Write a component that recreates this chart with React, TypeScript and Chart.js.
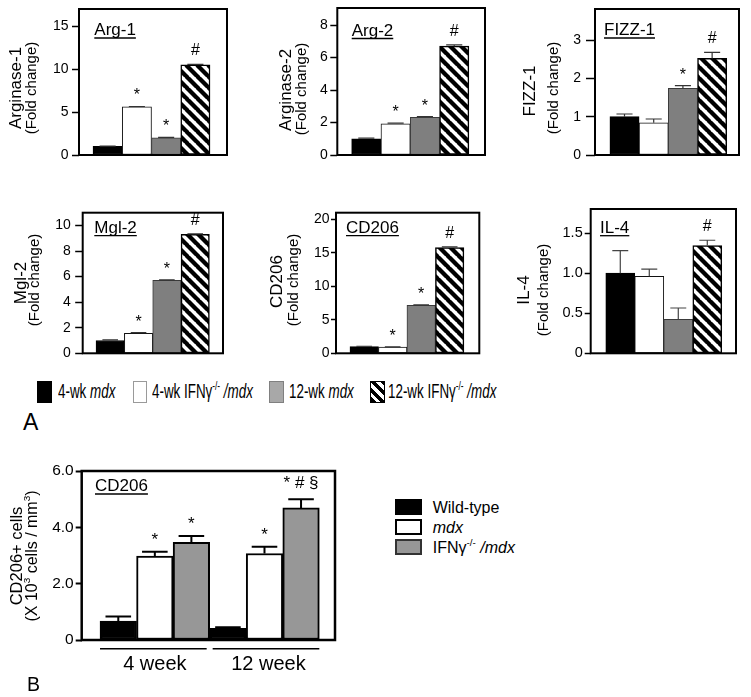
import React, { useEffect, useRef } from "react";
import { Chart, registerables } from "chart.js";
Chart.register(...registerables);

const FONT = '"Liberation Sans", Arial, Helvetica, sans-serif';

// ---------------- Panel A data ----------------
const GROUPS_A = ["4-wk mdx", "4-wk IFNγ-/- /mdx", "12-wk mdx", "12-wk IFNγ-/- /mdx"];

const ARG1_VALUES = [1.0, 5.6, 2.0, 10.5];
const ARG1_SEM = [0.04, 0.05, 0.05, 0.06];
const ARG1_MARKS = ["", "*", "*", "#"];
const ARG1_TICKS = [0, 5, 10, 15];

const ARG2_VALUES = [1.0, 1.92, 2.32, 6.7];
const ARG2_SEM = [0.04, 0.04, 0.05, 0.08];
const ARG2_MARKS = ["", "*", "*", "#"];
const ARG2_TICKS = [0, 2, 4, 6, 8];

const FIZZ1_VALUES = [1.0, 0.84, 1.74, 2.52];
const FIZZ1_SEM = [0.07, 0.1, 0.07, 0.16];
const FIZZ1_MARKS = ["", "", "*", "#"];
const FIZZ1_TICKS = [0, 1, 2, 3];

const MGL2_VALUES = [1.0, 1.56, 5.7, 9.3];
const MGL2_SEM = [0.05, 0.05, 0.04, 0.04];
const MGL2_MARKS = ["", "*", "*", "#"];
const MGL2_TICKS = [0, 2, 4, 6, 8, 10];

const CD206_VALUES = [1.0, 0.92, 7.15, 15.8];
const CD206_SEM = [0.05, 0.05, 0.08, 0.1];
const CD206_MARKS = ["", "*", "*", "#"];
const CD206_TICKS = [0, 5, 10, 15, 20];

const IL4_VALUES = [1.0, 0.96, 0.425, 1.345];
const IL4_SEM = [0.28, 0.09, 0.14, 0.065];
const IL4_MARKS = ["", "", "", "#"];
const IL4_TICKS = [0, 0.5, 1.0, 1.5];

// ---------------- Panel B data ----------------
const WEEKS_B = ["4 week", "12 week"];
const GROUPS_B = ["Wild-type", "mdx", "IFNγ-/- /mdx"];
const WT_B = [0.67, 0.41];
const WT_B_SEM = [0.16, 0.04];
const WT_B_MARKS = ["", ""];
const MDX_B = [2.98, 3.07];
const MDX_B_SEM = [0.15, 0.24];
const MDX_B_MARKS = ["*", "*"];
const IFN_B = [3.47, 4.69];
const IFN_B_SEM = [0.22, 0.31];
const IFN_B_MARKS = ["*", "* # §"];
const B_TICKS = [0, 2, 4, 6];

// ---------------- styling ----------------
const GRAY_A = "#7f7f7f";
const GRAY_B = "#979797";

type Seg = { t: string; sup?: boolean; it?: boolean };

function parseRich(s: string): Seg[] {
  return s
    .split(/(-\/-|\/?mdx)/)
    .filter((p) => p !== "")
    .map((p) => (p === "-/-" ? { t: p, sup: true } : p === "mdx" || p === "/mdx" ? { t: p, it: true } : { t: p }));
}

function fontFor(s: Seg, size: number) {
  const fs = s.sup ? size * 0.62 : size;
  return `${s.it ? "italic " : ""}${fs}px ${FONT}`;
}

function drawRich(ctx: CanvasRenderingContext2D, segs: Seg[], size: number, x: number, y: number, rotate: boolean) {
  ctx.save();
  ctx.translate(x, y);
  if (rotate) ctx.rotate(-Math.PI / 2);
  let w = 0;
  for (const s of segs) {
    ctx.font = fontFor(s, size);
    w += ctx.measureText(s.t).width;
  }
  let cx = -w / 2;
  ctx.textAlign = "left";
  ctx.textBaseline = "alphabetic";
  ctx.fillStyle = "#000";
  for (const s of segs) {
    ctx.font = fontFor(s, size);
    ctx.fillText(s.t, cx, s.sup ? -size * 0.42 : 0);
    cx += ctx.measureText(s.t).width;
  }
  ctx.restore();
}

function makeHatch(ctx: CanvasRenderingContext2D) {
  const P = 11;
  const t = document.createElement("canvas");
  t.width = P;
  t.height = P;
  const c = t.getContext("2d")!;
  c.fillStyle = "#fff";
  c.fillRect(0, 0, P, P);
  c.strokeStyle = "#000";
  c.lineWidth = 4.3;
  c.beginPath();
  for (const o of [-P, 0, P]) {
    c.moveTo(o - 1, -1);
    c.lineTo(o + P + 1, P + 1);
  }
  c.stroke();
  return ctx.createPattern(t, "repeat")!;
}

type Title = { segs: Seg[]; size: number; bx: number; cy: number };
type Layout = {
  canvas: [number, number, number, number];
  box: [number, number, number, number];
  yMax: number;
  xRange: [number, number];
  tickLen: number;
  tickPad: number;
  tickSize: number;
  tickW: number;
  decimals: number;
  frameW: number;
  gene: { t: string; x: number; y: number };
  titles: Title[];
  capRatio: number;
  errColor: string;
  errW: number;
  markSize: number;
  markGap: number;
};
type Series = { values: number[]; sem: number[]; marks: string[] };

const T = (t: string): Seg[] => [{ t }];

const L_ARG1: Layout = {
  canvas: [0, 0, 250, 185], box: [79, 9, 227, 155], yMax: 17, xRange: [-0.979, 4.081],
  tickLen: 7, tickPad: 3.5, tickSize: 14, tickW: 1.5, decimals: 0, frameW: 2,
  gene: { t: "Arg-1", x: 94.3, y: 35 },
  titles: [{ segs: T("Arginase-1"), size: 17, bx: 20.5, cy: 88 }, { segs: T("(Fold change)"), size: 15, bx: 36, cy: 88 }],
  capRatio: 0.55, errColor: "#333", errW: 1.2, markSize: 16, markGap: 15,
};
const L_ARG2: Layout = {
  ...L_ARG1, canvas: [250, 0, 250, 185], box: [337.3, 8, 485, 155], yMax: 9.05, xRange: [-0.99, 4.05],
  tickLen: 7, tickPad: 2.5,
  gene: { t: "Arg-2", x: 351.7, y: 35.5 },
  titles: [{ segs: T("Arginase-2"), size: 17, bx: 291, cy: 90 }, { segs: T("(Fold change)"), size: 15, bx: 306, cy: 89 }],
};
const L_FIZZ1: Layout = {
  ...L_ARG1, canvas: [500, 0, 251, 185], box: [595, 9, 739, 155], yMax: 3.81, xRange: [-1.01, 3.92],
  tickLen: 9, tickPad: 5,
  gene: { t: "FIZZ-1", x: 604, y: 35 },
  titles: [{ segs: T("FIZZ-1"), size: 17, bx: 535, cy: 91 }, { segs: T("(Fold change)"), size: 15, bx: 557.5, cy: 88 }],
};
const L_MGL2: Layout = {
  ...L_ARG1, canvas: [0, 190, 250, 175], box: [82.7, 212.7, 223, 353.3], yMax: 11.0, xRange: [-0.97, 3.98],
  tickLen: 7.5, tickPad: 4.5,
  gene: { t: "Mgl-2", x: 94.3, y: 232.7 },
  titles: [{ segs: T("Mgl-2"), size: 17, bx: 26, cy: 283 }, { segs: T("(Fold change)"), size: 15, bx: 38.5, cy: 280 }],
};
const L_CD206: Layout = {
  ...L_ARG1, canvas: [250, 190, 250, 175], box: [336, 212.7, 479.3, 353.3], yMax: 21.0, xRange: [-0.99, 4.04],
  tickLen: 5, tickPad: 1.5,
  gene: { t: "CD206", x: 346, y: 232.7 },
  titles: [{ segs: T("CD206"), size: 17, bx: 282, cy: 281.5 }, { segs: T("(Fold change)"), size: 15, bx: 298, cy: 280 }],
};
const L_IL4: Layout = {
  ...L_ARG1, canvas: [500, 190, 251, 175], box: [590.7, 209, 736, 353.3], yMax: 1.8, xRange: [-1.02, 3.99],
  tickLen: 6, tickPad: 2, tickSize: 14.5, decimals: 1,
  gene: { t: "IL-4", x: 600, y: 232.7 },
  titles: [{ segs: T("IL-4"), size: 17, bx: 529, cy: 290 }, { segs: T("(Fold change)"), size: 15, bx: 548, cy: 290 }],
  errColor: "#444",
};
const L_B: Layout = {
  canvas: [0, 440, 360, 257], box: [81.7, 471, 335, 640], yMax: 6, xRange: [-0.667, 1.643],
  tickLen: 6, tickPad: 2, tickSize: 15.5, tickW: 2, decimals: 1, frameW: 2.5,
  gene: { t: "CD206", x: 95, y: 491 },
  titles: [
    { segs: T("CD206+ cells"), size: 16.5, bx: 21.5, cy: 556 },
    { segs: [{ t: "(X 10" }, { t: "3", sup: true }, { t: " cells / mm" }, { t: "3", sup: true }, { t: ")" }], size: 16, bx: 36.5, cy: 556 },
  ],
  capRatio: 0.7, errColor: "#000", errW: 2, markSize: 17, markGap: 16,
};

function overlay(L: Layout, series: Series[], extra?: (chart: any, ctx: CanvasRenderingContext2D) => void) {
  return {
    id: "overlay",
    afterDatasetsDraw(chart: any) {
      const ctx: CanvasRenderingContext2D = chart.ctx;
      const a = chart.chartArea;
      const ys = chart.scales.y;
      const ox = L.canvas[0];
      const oy = L.canvas[1];
      ctx.save();
      series.forEach((s, di) => {
        const meta = chart.getDatasetMeta(di);
        meta.data.forEach((bar: any, i: number) => {
          const v = s.values[i];
          const e = s.sem[i];
          const yTop = ys.getPixelForValue(v);
          const yE = ys.getPixelForValue(v + e);
          const cw = bar.width * L.capRatio;
          ctx.strokeStyle = L.errColor;
          ctx.lineWidth = L.errW;
          ctx.beginPath();
          ctx.moveTo(bar.x, yTop);
          ctx.lineTo(bar.x, yE);
          ctx.moveTo(bar.x - cw / 2, yE);
          ctx.lineTo(bar.x + cw / 2, yE);
          ctx.stroke();
          const m = s.marks[i];
          if (m) {
            ctx.font = `${L.markSize}px ${FONT}`;
            ctx.fillStyle = "#000";
            ctx.textAlign = "center";
            ctx.textBaseline = "alphabetic";
            const mm = ctx.measureText(m);
            const by = yE - L.markGap + (mm.actualBoundingBoxAscent - mm.actualBoundingBoxDescent) / 2;
            ctx.fillText(m, bar.x, by);
          }
        });
      });
      // frame
      ctx.strokeStyle = "#000";
      ctx.lineWidth = L.frameW;
      ctx.strokeRect(a.left, a.top, a.right - a.left, a.bottom - a.top);
      // gene label, underlined
      ctx.font = `17px ${FONT}`;
      ctx.fillStyle = "#000";
      ctx.textAlign = "left";
      ctx.textBaseline = "alphabetic";
      const gx = L.gene.x - ox;
      const gy = L.gene.y - oy;
      ctx.fillText(L.gene.t, gx, gy);
      const gw = ctx.measureText(L.gene.t).width;
      ctx.lineWidth = 1.3;
      ctx.beginPath();
      ctx.moveTo(gx, gy + 3);
      ctx.lineTo(gx + gw, gy + 3);
      ctx.stroke();
      // y titles
      for (const t of L.titles) drawRich(ctx, t.segs, t.size, t.bx - ox, t.cy - oy, true);
      if (extra) extra(chart, ctx);
      ctx.restore();
    },
  };
}

function baseOptions(L: Layout, ticks: number[]): any {
  return {
    responsive: false,
    maintainAspectRatio: false,
    animation: false,
    devicePixelRatio: 1,
    events: [],
    layout: {
      padding: {
        left: 0,
        top: L.box[1] - L.canvas[1],
        right: L.canvas[0] + L.canvas[2] - L.box[2],
        bottom: L.canvas[1] + L.canvas[3] - L.box[3],
      },
    },
    plugins: { legend: { display: false }, tooltip: { enabled: false }, title: { display: false } },
    scales: {
      x: {
        type: "linear",
        display: false,
        min: L.xRange[0],
        max: L.xRange[1],
        afterBuildTicks: (s: any) => {
          s.ticks = [];
        },
      },
      y: {
        type: "linear",
        min: 0,
        max: L.yMax,
        border: { display: false },
        grid: { drawOnChartArea: false, drawTicks: true, tickLength: L.tickLen, tickColor: "#000", tickWidth: L.tickW },
        ticks: {
          color: "#000",
          padding: L.tickPad,
          font: { family: FONT, size: L.tickSize },
          callback: (v: any) => (Number(v) === 0 ? "0" : Number(v).toFixed(L.decimals)),
        },
        afterBuildTicks: (s: any) => {
          s.ticks = ticks.map((v) => ({ value: v }));
        },
        afterFit: (s: any) => {
          s.width = L.box[0] - L.canvas[0];
          s.paddingTop = 0;
          s.paddingBottom = 0;
        },
      },
    },
  };
}

function buildTopPanel(canvas: HTMLCanvasElement, L: Layout, values: number[], sem: number[], marks: string[], ticks: number[]) {
  const ctx = canvas.getContext("2d")!;
  const hatch = makeHatch(ctx);
  return new Chart(canvas, {
    type: "bar",
    data: {
      labels: GROUPS_A,
      datasets: [
        {
          label: "Fold change",
          data: values.map((v, i) => ({ x: i, y: v })),
          backgroundColor: ["#000", "#fff", GRAY_A, hatch],
          borderColor: ["#000", "#111", "#3a3a3a", "#000"],
          borderWidth: [1, 1, 1, 1.5],
          borderSkipped: false,
          barPercentage: 1,
          categoryPercentage: 1,
        } as any,
      ],
    },
    options: baseOptions(L, ticks),
    plugins: [overlay(L, [{ values, sem, marks }])],
  });
}

function buildPanelB(canvas: HTMLCanvasElement) {
  const L = L_B;
  const series: Series[] = [
    { values: WT_B, sem: WT_B_SEM, marks: WT_B_MARKS },
    { values: MDX_B, sem: MDX_B_SEM, marks: MDX_B_MARKS },
    { values: IFN_B, sem: IFN_B_SEM, marks: IFN_B_MARKS },
  ];
  const fills = ["#000", "#fff", GRAY_B];
  const extra = (chart: any, ctx: CanvasRenderingContext2D) => {
    const xs = chart.scales.x;
    const half = (xs.getPixelForValue(1) - xs.getPixelForValue(0)) / 2;
    const yLine = 648.7 - L.canvas[1];
    const yText = 670 - L.canvas[1];
    WEEKS_B.forEach((w, i) => {
      const xc = xs.getPixelForValue(i);
      const left = xc - half + (i > 0 ? 3 : 0);
      const right = xc + half - (i < WEEKS_B.length - 1 ? 3 : 0);
      ctx.strokeStyle = "#000";
      ctx.lineWidth = 1.5;
      ctx.beginPath();
      ctx.moveTo(left, yLine);
      ctx.lineTo(right, yLine);
      ctx.stroke();
      ctx.font = `20px ${FONT}`;
      ctx.fillStyle = "#000";
      ctx.textAlign = "center";
      ctx.textBaseline = "alphabetic";
      ctx.fillText(w, xc + (i > 0 ? 4 : 0), yText);
    });
  };
  return new Chart(canvas, {
    type: "bar",
    data: {
      labels: WEEKS_B,
      datasets: series.map((s, di) => ({
        label: GROUPS_B[di],
        data: s.values.map((v, i) => ({ x: i, y: v })),
        backgroundColor: fills[di],
        borderColor: "#000",
        borderWidth: 2,
        borderSkipped: false,
        barPercentage: 1,
        categoryPercentage: 1,
      })) as any,
    },
    options: baseOptions(L, B_TICKS),
    plugins: [overlay(L, series, extra)],
  });
}

function ChartCanvas({ rect, build }: { rect: [number, number, number, number]; build: (c: HTMLCanvasElement) => Chart }) {
  const ref = useRef<HTMLCanvasElement>(null);
  useEffect(() => {
    const chart = build(ref.current!);
    return () => chart.destroy();
  }, []);
  return (
    <canvas
      ref={ref}
      width={rect[2]}
      height={rect[3]}
      style={{ position: "absolute", left: rect[0], top: rect[1], width: rect[2], height: rect[3] }}
    />
  );
}

function RichText({ segs }: { segs: Seg[] }) {
  return (
    <>
      {segs.map((s, i) => (
        <span
          key={i}
          style={{
            fontStyle: s.it ? "italic" : "normal",
            fontSize: s.sup ? "0.62em" : undefined,
            position: s.sup ? "relative" : undefined,
            top: s.sup ? "-0.62em" : undefined,
          }}
        >
          {s.t}
        </span>
      ))}
    </>
  );
}

const LEGEND_A_POS = [
  { x: 37.3, w: 14.4, tx: 58.3 },
  { x: 132.7, w: 14.3, tx: 152 },
  { x: 269.3, w: 14.7, tx: 289 },
  { x: 370, w: 15, tx: 388.3 },
];
const LEGEND_A_SWATCH: React.CSSProperties[] = [
  { background: "#000" },
  { background: "#fff", border: "1px solid #9a9a9a" },
  { background: "#a8a8a8", border: "1px solid #808080" },
  { background: "repeating-linear-gradient(45deg, #000 0px 3.6px, #fff 3.6px 7px)", border: "1.5px solid #000" },
];
const LEGEND_B_ROWS = [499.3, 519.3, 539];
const LEGEND_B_SWATCH: React.CSSProperties[] = [
  { background: "#000", border: "2px solid #000" },
  { background: "#fff", border: "2px solid #000" },
  { background: GRAY_B, border: "2px solid #333" },
];

export default function App() {
  return (
    <div
      style={{
        position: "absolute",
        left: 0,
        top: 0,
        width: 751,
        height: 697,
        background: "#fff",
        fontFamily: FONT,
        color: "#000",
        overflow: "hidden",
      }}
    >
      <ChartCanvas rect={L_ARG1.canvas} build={(c) => buildTopPanel(c, L_ARG1, ARG1_VALUES, ARG1_SEM, ARG1_MARKS, ARG1_TICKS)} />
      <ChartCanvas rect={L_ARG2.canvas} build={(c) => buildTopPanel(c, L_ARG2, ARG2_VALUES, ARG2_SEM, ARG2_MARKS, ARG2_TICKS)} />
      <ChartCanvas rect={L_FIZZ1.canvas} build={(c) => buildTopPanel(c, L_FIZZ1, FIZZ1_VALUES, FIZZ1_SEM, FIZZ1_MARKS, FIZZ1_TICKS)} />
      <ChartCanvas rect={L_MGL2.canvas} build={(c) => buildTopPanel(c, L_MGL2, MGL2_VALUES, MGL2_SEM, MGL2_MARKS, MGL2_TICKS)} />
      <ChartCanvas rect={L_CD206.canvas} build={(c) => buildTopPanel(c, L_CD206, CD206_VALUES, CD206_SEM, CD206_MARKS, CD206_TICKS)} />
      <ChartCanvas rect={L_IL4.canvas} build={(c) => buildTopPanel(c, L_IL4, IL4_VALUES, IL4_SEM, IL4_MARKS, IL4_TICKS)} />
      <ChartCanvas rect={L_B.canvas} build={(c) => buildPanelB(c)} />

      {/* Panel A legend */}
      {GROUPS_A.map((g, i) => (
        <React.Fragment key={g}>
          <div
            style={{
              position: "absolute",
              left: LEGEND_A_POS[i].x,
              top: 381,
              width: LEGEND_A_POS[i].w,
              height: 21.7,
              boxSizing: "border-box",
              ...LEGEND_A_SWATCH[i],
            }}
          />
          <div
            style={{
              position: "absolute",
              left: LEGEND_A_POS[i].tx,
              top: 380.8,
              fontSize: 20,
              lineHeight: "20px",
              whiteSpace: "pre",
              transform: "scaleX(0.67)",
              transformOrigin: "0 0",
            }}
          >
            <RichText segs={parseRich(g)} />
          </div>
        </React.Fragment>
      ))}

      <div style={{ position: "absolute", left: 23, top: 410.5, fontSize: 23, lineHeight: "23px" }}>A</div>
      <div style={{ position: "absolute", left: 27, top: 675, fontSize: 19.5, lineHeight: "19.5px" }}>B</div>

      {/* Panel B legend */}
      {GROUPS_B.map((g, i) => (
        <React.Fragment key={g}>
          <div
            style={{
              position: "absolute",
              left: 395,
              top: LEGEND_B_ROWS[i],
              width: 26.7,
              height: 15.7,
              boxSizing: "border-box",
              ...LEGEND_B_SWATCH[i],
            }}
          />
          <div
            style={{
              position: "absolute",
              left: 432.7,
              top: LEGEND_B_ROWS[i] + 14 - 13.5,
              fontSize: 16,
              lineHeight: "16px",
              whiteSpace: "pre",
            }}
          >
            <RichText segs={parseRich(g)} />
          </div>
        </React.Fragment>
      ))}
    </div>
  );
}
